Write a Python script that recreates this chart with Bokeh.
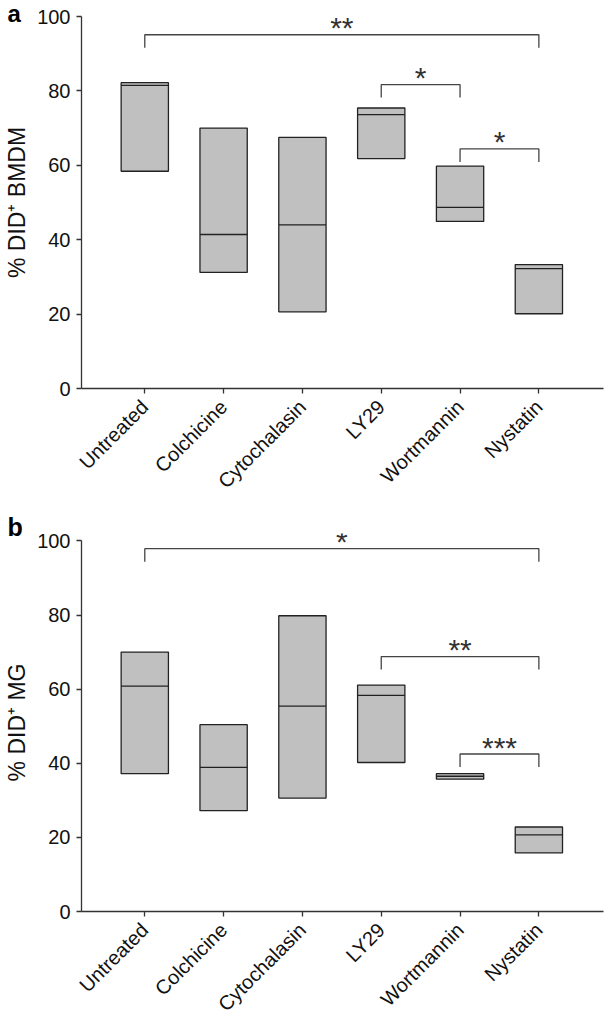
import numpy as np
from math import pi
from bokeh.plotting import figure
from bokeh.layouts import column
from bokeh.models import Range1d, FixedTicker, Title, ColumnDataSource
from bokeh.core.properties import value
from bokeh.embed import file_html
from bokeh.resources import INLINE

# ---------------- data ----------------
categories = ["Untreated", "Colchicine", "Cytochalasin", "LY29", "Wortmannin", "Nystatin"]
x_pos = [1, 2, 3, 4, 5, 6]

bmdm_low = [58.4, 31.2, 20.6, 61.8, 44.9, 20.1]
bmdm_median = [81.5, 41.4, 44.0, 73.6, 48.7, 32.2]
bmdm_high = [82.2, 70.0, 67.5, 75.4, 59.8, 33.3]

mg_low = [37.2, 27.2, 30.6, 40.2, 35.7, 15.8]
mg_median = [60.8, 38.9, 55.4, 58.3, 36.5, 20.7]
mg_high = [70.0, 50.4, 79.8, 61.1, 37.2, 22.8]

bmdm_br_from = [1, 4, 5]
bmdm_br_to = [6, 5, 6]
bmdm_br_y = [95.1, 81.7, 64.4]
bmdm_br_label = ["**", "*", "*"]

mg_br_from = [1, 4, 5]
mg_br_to = [6, 6, 6]
mg_br_y = [97.9, 68.8, 42.5]
mg_br_label = ["*", "**", "***"]

y_ticks = [0, 20, 40, 60, 80, 100]

# ---------------- style ----------------
FONT = "Liberation Sans"
BOX_FILL = "#c0c0c0"
EDGE = "#222222"
AXIS = "#333333"
TEXT = "#111111"
BOX_HALF = 0.3
LEG = 3.5


def panel_title(letter, size, standoff, valign):
    kw = dict(text=letter, text_font=FONT, text_font_size=size,
              text_font_style="bold", text_color="#000000",
              align="left", offset=-74, vertical_align=valign)
    try:
        return Title(standoff=standoff, **kw)
    except Exception:
        return Title(standoff=0, **kw)


def make_panel(ylabel, low, med, high, bfrom, bto, by, blabel,
               height, top, bottom, y_end, letter, size, standoff, valign):
    p = figure(width=604, height=height, output_backend="svg", toolbar_location=None,
               x_range=Range1d(0.197, 6.82), y_range=Range1d(0, y_end),
               min_border_left=81, min_border_right=1,
               min_border_top=top, min_border_bottom=bottom)
    p.outline_line_color = None
    p.grid.visible = False
    p.background_fill_color = "white"
    p.border_fill_color = "white"

    x = np.array(x_pos, dtype=float)
    src = ColumnDataSource(dict(
        left=x - BOX_HALF, right=x + BOX_HALF,
        low=low, med=med, high=high))
    p.quad(left="left", right="right", bottom="low", top="high", source=src,
           fill_color=BOX_FILL, line_color=EDGE, line_width=1.3)
    p.segment(x0="left", x1="right", y0="med", y1="med", source=src,
              line_color=EDGE, line_width=1.3)

    xs = [[a, a, b, b] for a, b in zip(bfrom, bto)]
    ys = [[y - LEG, y, y, y - LEG] for y in by]
    p.multi_line(xs=xs, ys=ys, line_color="#444444", line_width=1.3)
    mids = [(a + b) / 2 for a, b in zip(bfrom, bto)]
    p.text(x=mids, y=by, text=blabel, text_font=value(FONT), text_font_size="30px",
           text_align="center", text_baseline="alphabetic", y_offset=-7,
           text_color="#333333")

    # axes
    p.xaxis.ticker = FixedTicker(ticks=x_pos)
    p.xaxis.major_label_overrides = {k: c for k, c in zip(x_pos, categories)}
    p.xaxis.major_label_orientation = pi / 4
    p.xaxis.major_label_standoff = 10
    p.xaxis.major_label_text_font_size = "20px"
    p.yaxis.ticker = FixedTicker(ticks=y_ticks)
    p.yaxis.bounds = (0, 100)
    p.yaxis.axis_label = ylabel
    p.yaxis.axis_label_text_font = FONT
    p.yaxis.axis_label_text_font_size = "23px"
    p.yaxis.axis_label_text_font_style = "normal"
    p.yaxis.axis_label_text_color = TEXT
    p.yaxis.axis_label_standoff = 4
    p.yaxis.major_label_standoff = 6
    p.yaxis.major_label_text_font_size = "20px"
    for ax in (p.xaxis, p.yaxis):
        ax.axis_line_color = AXIS
        ax.axis_line_width = 1.3
        ax.major_tick_line_color = AXIS
        ax.major_tick_line_width = 1.3
        ax.major_tick_out = 5
        ax.major_tick_in = 0
        ax.minor_tick_line_color = None
        ax.major_label_text_font = FONT
        ax.major_label_text_color = TEXT

    p.add_layout(panel_title(letter, size, standoff, valign), "above")
    return p


pa = make_panel("% DID\u207a BMDM", bmdm_low, bmdm_median, bmdm_high,
                bmdm_br_from, bmdm_br_to, bmdm_br_y, bmdm_br_label,
                height=503, top=16, bottom=112, y_end=100,
                letter="a", size="24px", standoff=-23.5, valign="middle")
pb = make_panel("% DID\u207a MG", mg_low, mg_median, mg_high,
                mg_br_from, mg_br_to, mg_br_y, mg_br_label,
                height=523, top=30, bottom=110, y_end=102,
                letter="b", size="25px", standoff=-14, valign="bottom")

layout = column(pa, pb, spacing=0)
open("out.html", "w").write(file_html(layout, INLINE))
